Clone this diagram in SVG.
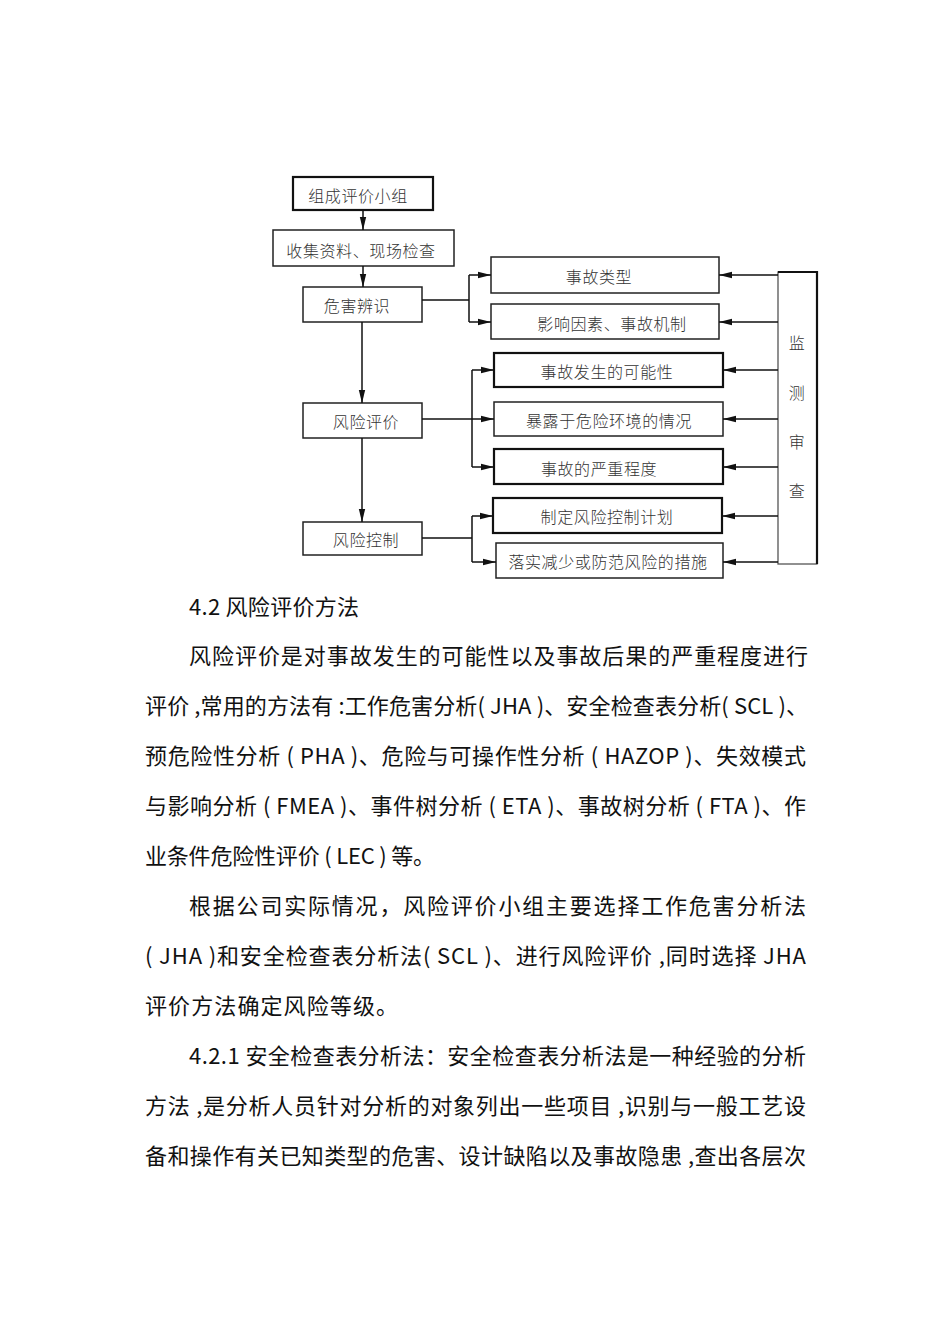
<svg xmlns="http://www.w3.org/2000/svg" width="950" height="1344" viewBox="0 0 950 1344">
<style>
.box{fill:#fff;stroke:#222;stroke-width:1.5}
.bold{fill:#fff;stroke:#111;stroke-width:2.2}
.lbl{font-family:"Liberation Serif","Noto Sans CJK SC",serif;font-size:16px;font-weight:300;fill:#333;text-anchor:middle;letter-spacing:0.6px}
.con{fill:none;stroke:#111;stroke-width:1.5}
.para{font-family:"Noto Sans CJK SC","Noto Sans",sans-serif;font-size:22px;fill:#111}
</style>
<defs>
<marker id="ah" markerUnits="userSpaceOnUse" markerWidth="13" markerHeight="8" refX="13" refY="4" orient="auto">
<path d="M0,0.8 L13,4 L0,7.2 z" fill="#111"/>
</marker>
</defs>
<rect width="950" height="1344" fill="#fff"/>

<g id="n1"><rect class="bold" x="293" y="177" width="140" height="33"/><text class="lbl" x="358" y="202">组成评价小组</text></g>
<g id="n2"><rect class="box" x="273" y="230" width="181" height="36"/><text class="lbl" x="361" y="257">收集资料、现场检查</text></g>
<g id="n3"><rect class="box" x="303" y="287" width="119" height="35"/><text class="lbl" x="357" y="312">危害辨识</text></g>
<g id="n4"><rect class="box" x="303" y="403" width="119" height="35"/><text class="lbl" x="366" y="428">风险评价</text></g>
<g id="n5"><rect class="box" x="303" y="522" width="119" height="33"/><text class="lbl" x="366" y="546">风险控制</text></g>

<g id="r1"><rect class="box" x="491" y="257" width="228" height="36"/><text class="lbl" x="599" y="283">事故类型</text></g>
<g id="r2"><rect class="box" x="491" y="304" width="228" height="35"/><text class="lbl" x="612" y="330">影响因素、事故机制</text></g>
<g id="r3"><rect class="bold" x="494" y="353" width="229" height="34"/><text class="lbl" x="607" y="378">事故发生的可能性</text></g>
<g id="r4"><rect class="box" x="494" y="402" width="229" height="34"/><text class="lbl" x="609" y="427">暴露于危险环境的情况</text></g>
<g id="r5"><rect class="bold" x="494" y="449" width="229" height="35"/><text class="lbl" x="599" y="475">事故的严重程度</text></g>
<g id="r6"><rect class="bold" x="493" y="498" width="229" height="35"/><text class="lbl" x="607" y="523">制定风险控制计划</text></g>
<g id="r7"><rect class="box" x="496" y="543" width="227" height="35"/><text class="lbl" x="608" y="568">落实减少或防范风险的措施</text></g>

<g id="mon">
<rect x="778" y="272" width="39" height="292" fill="#fff" stroke="#555" stroke-width="1.3"/>
<path d="M778,272 H817 V564" fill="none" stroke="#111" stroke-width="2.2"/>
<text class="lbl" x="797" y="349">监</text>
<text class="lbl" x="797" y="399">测</text>
<text class="lbl" x="797" y="448">审</text>
<text class="lbl" x="797" y="497">查</text>
</g>

<g id="connectors">
<path class="con" d="M363,210 V230" marker-end="url(#ah)"/>
<path class="con" d="M363,266 V287" marker-end="url(#ah)"/>
<path class="con" d="M362,322 V403" marker-end="url(#ah)"/>
<path class="con" d="M362,438 V522" marker-end="url(#ah)"/>

<path class="con" d="M422,300 H469 M469,275 V322"/>
<path class="con" d="M469,275 H491" marker-end="url(#ah)"/>
<path class="con" d="M469,322 H491" marker-end="url(#ah)"/>

<path class="con" d="M472,370 V467"/>
<path class="con" d="M422,419 H494" marker-end="url(#ah)"/>
<path class="con" d="M472,370 H494" marker-end="url(#ah)"/>
<path class="con" d="M472,467 H494" marker-end="url(#ah)"/>

<path class="con" d="M422,538 H472 M472,516 V562"/>
<path class="con" d="M472,516 H493" marker-end="url(#ah)"/>
<path class="con" d="M472,562 H496" marker-end="url(#ah)"/>

<path class="con" d="M778,275 H719" marker-end="url(#ah)"/>
<path class="con" d="M778,322 H719" marker-end="url(#ah)"/>
<path class="con" d="M778,370 H723" marker-end="url(#ah)"/>
<path class="con" d="M778,419 H723" marker-end="url(#ah)"/>
<path class="con" d="M778,467 H723" marker-end="url(#ah)"/>
<path class="con" d="M778,516 H722" marker-end="url(#ah)"/>
<path class="con" d="M778,562 H723" marker-end="url(#ah)"/>
</g>

<g id="text">
<text class="para" x="189" y="615" textLength="170" lengthAdjust="spacing">4.2 风险评价方法</text>
<text class="para" x="189" y="664" textLength="619" lengthAdjust="spacing">风险评价是对事故发生的可能性以及事故后果的严重程度进行</text>
<text class="para" x="145" y="714" textLength="663" lengthAdjust="spacing">评价 ,常用的方法有 :工作危害分析( JHA )、安全检查表分析( SCL )、</text>
<text class="para" x="145" y="764" textLength="661" lengthAdjust="spacing">预危险性分析 ( PHA )、危险与可操作性分析 ( HAZOP )、失效模式</text>
<text class="para" x="145" y="814" textLength="661" lengthAdjust="spacing">与影响分析 ( FMEA )、事件树分析 ( ETA )、事故树分析 ( FTA )、作</text>
<text class="para" x="145" y="864" textLength="290" lengthAdjust="spacing">业条件危险性评价 ( LEC ) 等。</text>
<text class="para" x="189" y="914" textLength="617" lengthAdjust="spacing">根据公司实际情况，风险评价小组主要选择工作危害分析法</text>
<text class="para" x="145" y="964" textLength="661" lengthAdjust="spacing">( JHA )和安全检查表分析法( SCL )、进行风险评价 ,同时选择  JHA</text>
<text class="para" x="145" y="1014" textLength="253" lengthAdjust="spacing">评价方法确定风险等级。</text>
<text class="para" x="189" y="1064" textLength="617" lengthAdjust="spacing">4.2.1  安全检查表分析法：安全检查表分析法是一种经验的分析</text>
<text class="para" x="145" y="1114" textLength="661" lengthAdjust="spacing">方法 ,是分析人员针对分析的对象列出一些项目 ,识别与一般工艺设</text>
<text class="para" x="145" y="1164" textLength="661" lengthAdjust="spacing">备和操作有关已知类型的危害、设计缺陷以及事故隐患 ,查出各层次</text>
</g>
</svg>
